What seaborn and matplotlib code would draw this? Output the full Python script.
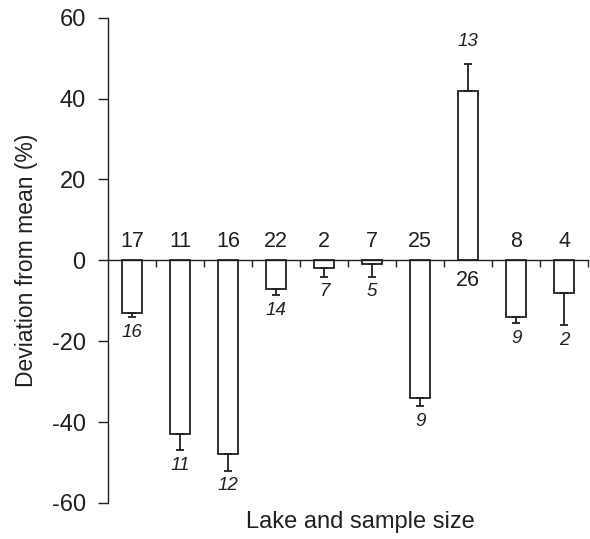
import numpy as np
import pandas as pd
import seaborn as sns
import matplotlib.pyplot as plt

# Values
lakes = [f"L{i}" for i in range(1, 11)]
deviation = [-13, -43, -48, -7, -2, -1, -34, 42, -14, -8]
error = [1, 4, 4, 1.5, 2, 3, 2, 6.5, 1.5, 8]
n_upright = [17, 11, 16, 22, 2, 7, 25, 26, 8, 4]
n_italic = [16, 11, 12, 14, 7, 5, 9, 13, 9, 2]
yticks = [-60, -40, -20, 0, 20, 40, 60]

df = pd.DataFrame({"lake": lakes, "dev": deviation, "err": error})

sns.set_style("ticks")
plt.rcParams['font.family'] = ['Liberation Sans', 'DejaVu Sans']
plt.rcParams['axes.unicode_minus'] = False

ink = "#231f20"
fig = plt.figure(figsize=(5.9, 5.39), dpi=100)
ax = fig.add_axes([0.183, 0.067, 0.814, 0.9])

sns.barplot(data=df, x="lake", y="dev", color="white", edgecolor=ink,
            linewidth=1.3, width=0.42, saturation=1, errorbar=None, ax=ax)

x = np.arange(len(lakes))
dev = np.array(deviation, dtype=float)
err = np.array(error, dtype=float)
lower = np.where(dev < 0, err, 0)
upper = np.where(dev >= 0, err, 0)
ax.errorbar(x, dev, yerr=[lower, upper], fmt="none", ecolor=ink,
            elinewidth=1.3, capsize=3, capthick=1.3)

# sample size labels
for i, (v, e) in enumerate(zip(dev, err)):
    if v < 0:
        ax.annotate(str(n_upright[i]), (i, 0), xytext=(0, 6), textcoords="offset points",
                    ha="center", va="bottom", fontsize=15.5, color=ink)
        ax.annotate(str(n_italic[i]), (i, v - e), xytext=(0, -5), textcoords="offset points",
                    ha="center", va="top", fontsize=13.5, style="italic", color=ink)
    else:
        ax.annotate(str(n_upright[i]), (i, 0), xytext=(0, -7), textcoords="offset points",
                    ha="center", va="top", fontsize=15.5, color=ink)
        ax.annotate(str(n_italic[i]), (i, v + e), xytext=(0, 10), textcoords="offset points",
                    ha="center", va="bottom", fontsize=13.5, style="italic", color=ink)

ax.set_ylim(-60, 60)
ax.set_xlim(-0.5, 9.5)
ax.set_yticks(yticks)
ax.set_yticklabels([str(t) for t in yticks], fontsize=17, color=ink)
ax.set_xticks(np.arange(0.5, 10, 1))
ax.set_xticklabels([])
ax.tick_params(axis="y", direction="out", length=7, width=1, color=ink, pad=9)
ax.tick_params(axis="x", direction="out", length=5, width=1, color=ink)

ax.spines["bottom"].set_position(("data", 0))
ax.spines["top"].set_visible(False)
ax.spines["right"].set_visible(False)
for s in ["left", "bottom"]:
    ax.spines[s].set_color(ink)
    ax.spines[s].set_linewidth(1)

ax.set_ylabel("")
ax.set_xlabel("")
fig.text(0.045, 0.517, "Deviation from mean (%)", rotation=90, ha="center", va="center",
         fontsize=16.5, color=ink)
fig.text(0.61, 0.031, "Lake and sample size", ha="center", va="center",
         fontsize=17, color=ink)

fig.savefig("out.png", dpi=100)
